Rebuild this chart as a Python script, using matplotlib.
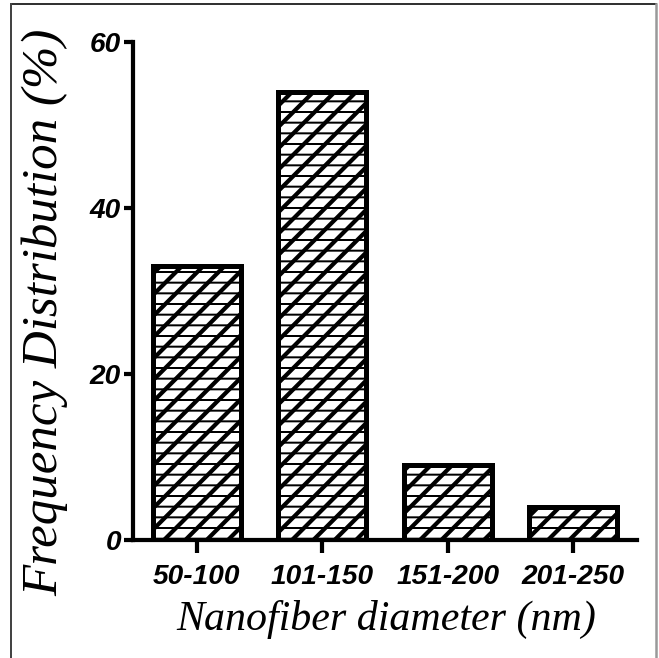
import numpy as np
import matplotlib
matplotlib.use("Agg")
import matplotlib.pyplot as plt
from matplotlib.lines import Line2D
from matplotlib.font_manager import FontProperties

# data
categories = ["50-100", "101-150", "151-200", "201-250"]
freq = [33, 54, 9, 4]
y_ticks = [0, 20, 40, 60]

# dpi 64 makes the hatch cell 64 px -> stripes about 10-11 px apart
DPI = 64
def P(px):
    # pixels -> points at this dpi
    return px * 72.0 / DPI

fig = plt.figure(figsize=(659 / DPI, 658 / DPI), dpi=DPI)
ax = fig.add_axes([0.2018, 0.1793, 0.7648, 0.7568])

x = np.arange(len(categories))

# thick diagonal stripes first, thin horizontal cuts on top -> brick-like dashes
DIAG_LW, HORIZ_LW = P(4.2), P(2.0)
plt.rcParams['hatch.linewidth'] = DIAG_LW
diag = ax.bar(x, freq, width=0.7, color="white", edgecolor="black",
              linewidth=P(5), hatch="/", zorder=3)
plt.rcParams['hatch.linewidth'] = HORIZ_LW
horiz = ax.bar(x, freq, width=0.7, color="none", edgecolor="black",
               linewidth=P(5), hatch="-", zorder=4)
for p in diag:
    if hasattr(p, "set_hatch_linewidth"):
        p.set_hatch_linewidth(DIAG_LW)
for p in horiz:
    if hasattr(p, "set_hatch_linewidth"):
        p.set_hatch_linewidth(HORIZ_LW)

ax.set_xlim(-0.51, 3.51)
ax.set_ylim(0, 60)
ax.set_yticks(y_ticks)
ax.set_xticks(x)
ax.set_xticklabels(categories)

for side in ["top", "right"]:
    ax.spines[side].set_visible(False)
for side in ["left", "bottom"]:
    ax.spines[side].set_linewidth(P(4.2))

ax.tick_params(axis="y", length=P(9), width=P(4.2), pad=P(3))
ax.tick_params(axis="x", length=P(13), width=P(4.2), pad=P(11))
tick_font = FontProperties(family="Liberation Sans", weight="bold", style="italic", size=P(28))
for lab in ax.get_xticklabels() + ax.get_yticklabels():
    lab.set_fontproperties(tick_font)

fig.text(0.586, 0.058, "Nanofiber diameter (nm)", ha="center", va="center",
         family="Liberation Serif", style="italic", size=P(42))
fig.text(0.068, 0.525, "Frequency Distribution (%)", ha="center", va="center",
         rotation=90, family="Liberation Serif", style="italic", size=P(51))

# frame around the picture
fig.add_artist(Line2D([11/659, 656/659], [1-4/658, 1-4/658], color="#333333", lw=P(2)))
fig.add_artist(Line2D([11/659, 11/659], [0, 1-4/658], color="#444444", lw=P(2)))
fig.add_artist(Line2D([656/659, 656/659], [0, 1-4/658], color="#999999", lw=P(2.5)))

fig.savefig("out.png", dpi=DPI)
